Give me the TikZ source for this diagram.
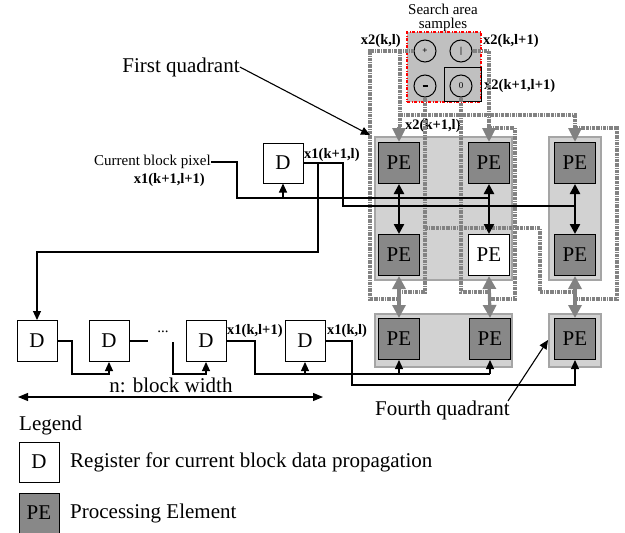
\documentclass[tikz,border=0pt]{standalone}
\usepackage{fontspec}
\setmainfont{Liberation Serif}
\usetikzlibrary{arrows.meta}
\definecolor{pegray}{RGB}{136,136,136}
\definecolor{regfill}{RGB}{210,210,210}
\definecolor{regdraw}{RGB}{165,165,165}
\definecolor{linegray}{RGB}{130,130,130}
\definecolor{safill}{RGB}{192,192,192}
\begin{document}
\begin{tikzpicture}[x=1pt,y=-1pt,
  every node/.style={inner sep=0pt},
  big/.style={font=\fontsize{21}{24}\selectfont},
  lab/.style={font=\fontsize{15}{17}\selectfont},
  blab/.style={font=\bfseries\fontsize{14.5}{17}\selectfont},
  dbox/.style={draw,fill=white,minimum width=40pt,minimum height=40pt,big,line width=1pt},
  pebox/.style={draw,fill=pegray,minimum size=41pt,big,line width=1pt},
  region/.style={fill=regfill,draw=regdraw,line width=1.2pt},
  gline/.style={draw=linegray,line width=3.2pt,dash pattern=on 3pt off 0.8pt on 1pt off 0.8pt},
  garr/.style={-{Triangle[length=14pt,width=13pt]},draw=linegray,fill=linegray,line width=3.2pt},
  glink/.style={{Triangle[length=13pt,width=13pt]}-{Triangle[length=13pt,width=13pt]},draw=linegray,line width=3.2pt},
  bl/.style={draw=black,line width=1.1pt},
  bla/.style={bl,-{Triangle[length=9pt,width=8pt]}},
  dbl/.style={draw=black,line width=2.4pt,{Triangle[length=10pt,width=10pt]}-{Triangle[length=10pt,width=10pt]}},
  circ/.style={circle,draw,line width=1pt,minimum size=22pt,font=\bfseries\fontsize{9}{9}\selectfont}
]
\useasboundingbox (0,0) rectangle (625,533);

% regions
\draw[region] (375,137) rectangle (512,280);
\draw[region] (549,137) rectangle (601,280);
\draw[region] (375,314) rectangle (512,367);
\draw[region] (549,314) rectangle (601,367);

% search area
\node[lab] (st1) at (443,9) {Search area};
\node[lab] (st2) at (443,25) {samples};
\node[fill=safill,draw=red,line width=2.6pt,dash pattern=on 3pt off 1.5pt on 1pt off 1.5pt,
      minimum width=74pt,minimum height=70pt] (sa) at (444,67) {};
\node[draw,line width=1pt,minimum width=37pt,minimum height=34pt] (sq) at (462.5,84) {};
\node[circ] (c1) at (425,51) {+};
\node[circ] (c2) at (461,51) {|};
\node[circ] (c3) at (425,86) {\rule{5pt}{2.5pt}};
\node[circ,font=\fontsize{9}{9}\selectfont] (c4) at (461,86) {0};

\node[blab,anchor=east] (lx2a) at (401,41) {x2(k,l)};
\node[blab,anchor=west] (lx2b) at (483,41) {x2(k,l+1)};
\node[blab,anchor=west] (lx2c) at (484,86) {x2(k+1,l+1)};
\node[blab,anchor=west] (lx2d) at (405,126) {x2(k+1,l)};

% PE nodes
\node[pebox] (p11) at (399,163) {PE};
\node[pebox] (p12) at (489,163) {PE};
\node[pebox] (p13) at (575,163) {PE};
\node[pebox] (p21) at (399,255) {PE};
\node[pebox,fill=white] (p22) at (489,255) {PE};
\node[pebox] (p23) at (575,255) {PE};
\node[pebox] (p31) at (399,339) {PE};
\node[pebox] (p32) at (490,339) {PE};
\node[pebox] (p33) at (575,339) {PE};

% grey dotted search-area distribution
\draw[gline] (c1.west) -- (370,51) -- (370,299) -- (399,299);
\draw[gline] (400,51) -- (400,128);
\draw[garr] (399,127) -- (p11.north);
\draw[gline] (400,115) -- (575,115) -- (575,128);
\draw[garr] (575,127) -- (p13.north);
\draw[gline] (575,128) -- (617,128) -- (617,299) -- (575,299);
\draw[gline] (c2.east) -- (489,51) -- (489,128);
\draw[garr] (489,127) -- (p12.north);
\draw[gline] (489,128) -- (515,128) -- (515,299) -- (489,299);
\draw[gline] (c3.south) -- (425,292) -- (399,292);
\draw[gline] (425,228) -- (540,228) -- (540,292) -- (575,292);
\draw[gline] (c4.south) -- (461,292) -- (489,292);

% grey links between rows 2 and 3
\draw[glink] (p21.south) -- (p31.north);
\draw[glink] (p22.south) -- (p32.north);
\draw[glink] (p23.south) -- (p33.north);

% black double arrows rows 1-2
\draw[dbl] (p11.south) -- (p21.north);
\draw[dbl] (p12.south) -- (p22.north);
\draw[dbl] (p13.south) -- (p23.north);

% D registers
\node[dbox] (dt) at (283,163) {D};
\node[dbox,minimum height=41pt] (d1) at (37,341) {D};
\node[dbox,minimum height=41pt] (d2) at (109,341) {D};
\node[dbox,minimum height=41pt] (d3) at (206,341) {D};
\node[dbox,minimum height=41pt] (d4) at (305,341) {D};

\node[lab,anchor=east] (cbp) at (211,162) {Current block pixel};
\node[blab,anchor=east] (lx1a) at (205,180) {x1(k+1,l+1)};
\node[blab,anchor=west] (lx1b) at (304,155) {x1(k+1,l)};
\node[blab,anchor=west] (lx1c) at (227,331) {x1(k,l+1)};
\node[blab,anchor=west] (lx1d) at (327,331) {x1(k,l)};

% black data lines
\draw[bl] (cbp.east) -- (237,162) -- (237,198) -- (489,198);
\draw[bla] (283,198) -- (dt.south);
\draw[bl] (dt.east) -- (343,163) -- (343,206) -- (575,206);
\draw[bla] (318,163) -- (318,252) -- (37,252) -- (d1.north);
\draw[bla] (d1.east) -- (72,341) -- (72,374) -- (109,374) -- (d2.south);
\draw[bl] (d2.east) -- (148,341);
\node[lab] (dots) at (163,332) {...};
\draw[bla] (173,342) -- (173,374) -- (206,374) -- (d3.south);
\draw[bl] (d3.east) -- (255,341) -- (255,374) -- (490,374);
\draw[bla] (305,374) -- (d4.south);
\draw[bla] (399,374) -- (p31.south);
\draw[bla] (490,374) -- (p32.south);
\draw[bla] (d4.east) -- (352,341) -- (352,385) -- (575,385) -- (p33.south);

% block width
\node[big] (bw) at (171,385) {n: block width};
\coordinate (bwl) at (18,397);
\coordinate (bwr) at (323,397);
\draw[bl,{Triangle[length=10pt,width=8pt]}-{Triangle[length=10pt,width=8pt]}] (bwl) -- (bwr);

% quadrant labels
\node[big] (fq) at (181,67) {First quadrant};
\draw[bla] (fq.east) -- (370,135);
\node[big,anchor=east] (foq) at (510,410) {Fourth quadrant};
\coordinate (foqs) at (508,401);
\draw[bla] (foqs) -- (548,340);

% legend
\node[big,anchor=west] (leg) at (19,425) {Legend};
\node[dbox] (ld) at (39,462) {D};
\node[big,anchor=west] (ldt) at (70,462) {Register for current block data propagation};
\node[pebox,minimum size=40pt] (lp) at (39,513) {PE};
\node[big,anchor=west] (lpt) at (70,513) {Processing Element};
\end{tikzpicture}
\end{document}
